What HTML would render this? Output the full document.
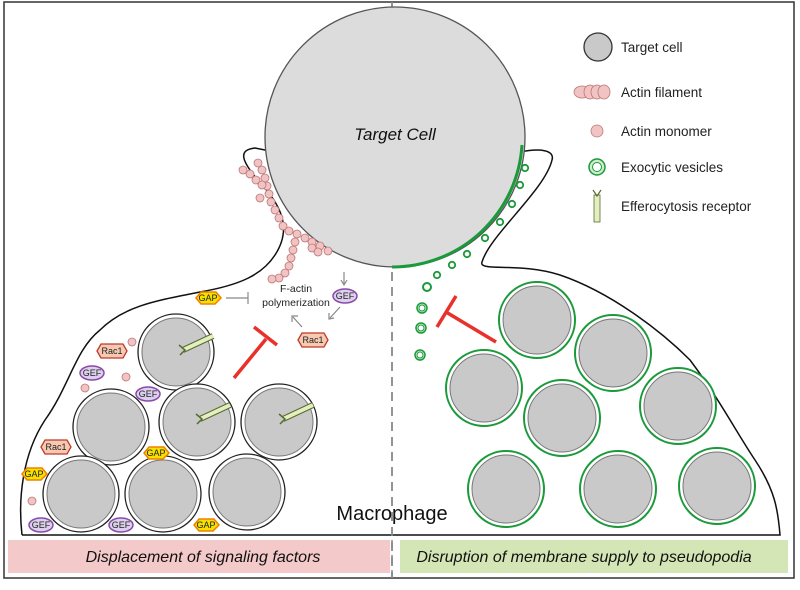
<!DOCTYPE html>
<html><head><style>
body{margin:0;background:#fff}
svg text{font-family:"Liberation Sans",sans-serif}
</style></head><body>
<svg width="800" height="585" viewBox="0 0 800 585" xmlns="http://www.w3.org/2000/svg">
<defs>
<g id="lc"><circle r="38" fill="#fff" stroke="#222" stroke-width="1.3"/><circle r="34" fill="#c9c9c9" stroke="#777" stroke-width="1"/></g>
<g id="rc"><circle r="38" fill="#fff" stroke="#1a9a3a" stroke-width="2"/><circle r="34" fill="#c9c9c9" stroke="#777" stroke-width="1"/></g>
<g id="rec"><path d="M0,0 L30,-14" stroke="#556b2f" stroke-width="6" stroke-linecap="butt"/><path d="M0,0 L30,-14" stroke="#e4efc0" stroke-width="4"/><path d="M-4,-5 L2,0 L-3,5" fill="none" stroke="#556b2f" stroke-width="1.5"/></g>
<g id="ves"><circle r="3.2" fill="#fff" stroke="#1a9a3a" stroke-width="1.8"/></g>
<g id="vesB"><circle r="5" fill="#cfeccf" stroke="#1a9a3a" stroke-width="1.5"/><circle r="3" fill="#fff" stroke="#1a9a3a" stroke-width="1"/></g>
<g id="act"><circle r="4" fill="#f2c3c3" stroke="#b77" stroke-width="0.8"/></g>
</defs>
<rect x="4" y="2" width="790" height="576" fill="#fff" stroke="#333" stroke-width="1.5"/>
<path d="M22,535 C18,500 22,455 45,420 C70,385 75,350 100,330 C125,305 160,300 200,292 C240,285 262,275 275,255 C290,232 285,210 262,185 C240,160 238,150 255,148 L275,152
M520,152 C540,148 555,150 552,160 C545,190 490,235 482,262 C478,272 520,262 560,275 C610,292 660,330 690,360 C720,400 735,430 755,460 C775,490 778,510 780,535 L22,535" fill="#fff" stroke="#111" stroke-width="1.5"/>
<line x1="392" y1="2" x2="392" y2="578" stroke="#888" stroke-width="1.8" stroke-dasharray="9,6"/>
<circle cx="395" cy="137" r="130" fill="#dcdcdc" stroke="#555" stroke-width="1.3"/>
<text x="395" y="140" font-size="17" font-style="italic" text-anchor="middle" fill="#111">Target Cell</text>
<path d="M392,267 A130,130 0 0 0 522,145" fill="none" stroke="#1a9a3a" stroke-width="3"/>
<g>
<use href="#act" x="258" y="163"/><use href="#act" x="262" y="170"/><use href="#act" x="265" y="178"/><use href="#act" x="267" y="186"/><use href="#act" x="269" y="194"/><use href="#act" x="271" y="202"/><use href="#act" x="275" y="210"/><use href="#act" x="279" y="218"/><use href="#act" x="283" y="226"/><use href="#act" x="289" y="231"/><use href="#act" x="297" y="234"/><use href="#act" x="305" y="238"/><use href="#act" x="312" y="242"/><use href="#act" x="320" y="246"/><use href="#act" x="328" y="251"/>
<use href="#act" x="243" y="170"/><use href="#act" x="250" y="174"/><use href="#act" x="256" y="180"/><use href="#act" x="262" y="185"/><use href="#act" x="260" y="198"/>
<use href="#act" x="295" y="242"/><use href="#act" x="293" y="250"/><use href="#act" x="291" y="258"/><use href="#act" x="289" y="266"/><use href="#act" x="285" y="273"/><use href="#act" x="279" y="278"/><use href="#act" x="272" y="279"/>
<use href="#act" x="312" y="248"/><use href="#act" x="318" y="252"/>
</g>
<use href="#ves" x="525" y="168"/><use href="#ves" x="520" y="185"/><use href="#ves" x="512" y="204"/><use href="#ves" x="500" y="222"/><use href="#ves" x="485" y="238"/><use href="#ves" x="467" y="254"/><use href="#ves" x="452" y="265"/><use href="#ves" x="437" y="275"/>
<g transform="translate(427,287)"><circle r="4" fill="#fff" stroke="#1a9a3a" stroke-width="2"/></g>
<use href="#vesB" x="422" y="308"/><use href="#vesB" x="421" y="328"/><use href="#vesB" x="420" y="355"/>
<use href="#lc" x="176" y="352"/><use href="#lc" x="111" y="427"/><use href="#lc" x="197" y="422"/><use href="#lc" x="279" y="422"/>
<use href="#lc" x="81" y="494"/><use href="#lc" x="163" y="494"/><use href="#lc" x="247" y="492"/>
<use href="#rec" x="183" y="350"/><use href="#rec" x="200" y="419"/><use href="#rec" x="283" y="419"/>
<use href="#rc" x="537" y="320"/><use href="#rc" x="613" y="353"/><use href="#rc" x="484" y="388"/><use href="#rc" x="562" y="418"/><use href="#rc" x="678" y="406"/><use href="#rc" x="506" y="489"/><use href="#rc" x="618" y="489"/><use href="#rc" x="717" y="486"/>
<g stroke="#e8312a" stroke-width="3.5" fill="none"><path d="M234,378 L266,339"/><path d="M254,327 L277,345"/><path d="M496,342 L446,312"/><path d="M456,296 L437,327"/></g>
<text x="296" y="292" font-size="10.5" text-anchor="middle" fill="#222">F-actin</text>
<text x="296" y="306" font-size="10.5" text-anchor="middle" fill="#222">polymerization</text>
<g stroke="#888" stroke-width="1.2" fill="none"><path d="M226,298 L248,298 M248,292 L248,304"/><path d="M344,272 L344,284"/><path d="M341,280 L344,285 L347,280"/><path d="M340,307 L330,318"/><path d="M329,313 L329,319 L334,318"/><path d="M302,327 L293,317"/><path d="M292,322 L292,316 L298,316"/></g>
<g font-size="9" text-anchor="middle" fill="#222">
<g transform="translate(208,298)"><path d="M-12,0 L-7,-6 L8,-6 L13,0 L7,6 L-7,6Z" fill="#f6e000" stroke="#f08000" stroke-width="1.5"/><text y="3">GAP</text></g>
<g transform="translate(156,453)"><path d="M-12,0 L-7,-6 L8,-6 L13,0 L7,6 L-7,6Z" fill="#f6e000" stroke="#f08000" stroke-width="1.5"/><text y="3">GAP</text></g>
<g transform="translate(34,474)"><path d="M-12,0 L-7,-6 L8,-6 L13,0 L7,6 L-7,6Z" fill="#f6e000" stroke="#f08000" stroke-width="1.5"/><text y="3">GAP</text></g>
<g transform="translate(206,525)"><path d="M-12,0 L-7,-6 L8,-6 L13,0 L7,6 L-7,6Z" fill="#f6e000" stroke="#f08000" stroke-width="1.5"/><text y="3">GAP</text></g>
<g transform="translate(345,296)"><ellipse rx="12" ry="7" fill="#ddd0ee" stroke="#8a4aa8" stroke-width="1.5"/><text y="3">GEF</text></g>
<g transform="translate(92,373)"><ellipse rx="12" ry="7" fill="#ddd0ee" stroke="#8a4aa8" stroke-width="1.5"/><text y="3">GEF</text></g>
<g transform="translate(148,394)"><ellipse rx="12" ry="7" fill="#ddd0ee" stroke="#8a4aa8" stroke-width="1.5"/><text y="3">GEF</text></g>
<g transform="translate(41,525)"><ellipse rx="12" ry="7" fill="#ddd0ee" stroke="#8a4aa8" stroke-width="1.5"/><text y="3">GEF</text></g>
<g transform="translate(121,525)"><ellipse rx="12" ry="7" fill="#ddd0ee" stroke="#8a4aa8" stroke-width="1.5"/><text y="3">GEF</text></g>
<g transform="translate(313,340)"><path d="M-15,0 L-11,-7 L11,-7 L15,0 L11,7 L-11,7Z" fill="#f6c9b0" stroke="#c0392b" stroke-width="1.3"/><text y="3">Rac1</text></g>
<g transform="translate(112,351)"><path d="M-15,0 L-11,-7 L11,-7 L15,0 L11,7 L-11,7Z" fill="#f6c9b0" stroke="#c0392b" stroke-width="1.3"/><text y="3">Rac1</text></g>
<g transform="translate(56,447)"><path d="M-15,0 L-11,-7 L11,-7 L15,0 L11,7 L-11,7Z" fill="#f6c9b0" stroke="#c0392b" stroke-width="1.3"/><text y="3">Rac1</text></g>
</g>
<use href="#act" x="132" y="342"/><use href="#act" x="126" y="377"/><use href="#act" x="85" y="388"/><use href="#act" x="32" y="501"/>
<text x="392" y="520" font-size="20" text-anchor="middle" fill="#111">Macrophage</text>
<circle cx="598" cy="47" r="14" fill="#c9c9c9" stroke="#333" stroke-width="1.3"/>
<g fill="#f2c3c3" stroke="#b77" stroke-width="0.8"><ellipse cx="582" cy="92" rx="8" ry="6"/><ellipse cx="590" cy="92" rx="6" ry="7"/><ellipse cx="597" cy="92" rx="6" ry="7"/><ellipse cx="604" cy="92" rx="6" ry="7"/></g>
<circle cx="597" cy="131" r="6" fill="#f2c3c3" stroke="#b77" stroke-width="0.8"/>
<circle cx="597" cy="167" r="8" fill="#cfeccf" stroke="#1a9a3a" stroke-width="1.5"/><circle cx="597" cy="167" r="4.5" fill="#fff" stroke="#1a9a3a" stroke-width="1"/>
<rect x="594" y="195" width="6" height="27" fill="#e4efc0" stroke="#556b2f" stroke-width="0.8"/><path d="M593,190 L597,196 L601,190" fill="none" stroke="#556b2f" stroke-width="1.2"/>
<g font-size="13.5" fill="#222"><text x="621" y="52">Target cell</text><text x="621" y="97">Actin filament</text><text x="621" y="136">Actin monomer</text><text x="621" y="172">Exocytic vesicles</text><text x="621" y="211">Efferocytosis receptor</text></g>
<rect x="8" y="540" width="382" height="33" fill="#f3c9c9"/>
<rect x="400" y="540" width="388" height="33" fill="#d4e6b5"/>
<line x1="392" y1="540" x2="392" y2="578" stroke="#888" stroke-width="1.5" stroke-dasharray="9,6"/>
<g font-size="16" font-style="italic" fill="#111" text-anchor="middle"><text x="203" y="562">Displacement of signaling factors</text><text x="584" y="562">Disruption of membrane supply to pseudopodia</text></g>
</svg>
</body></html>
